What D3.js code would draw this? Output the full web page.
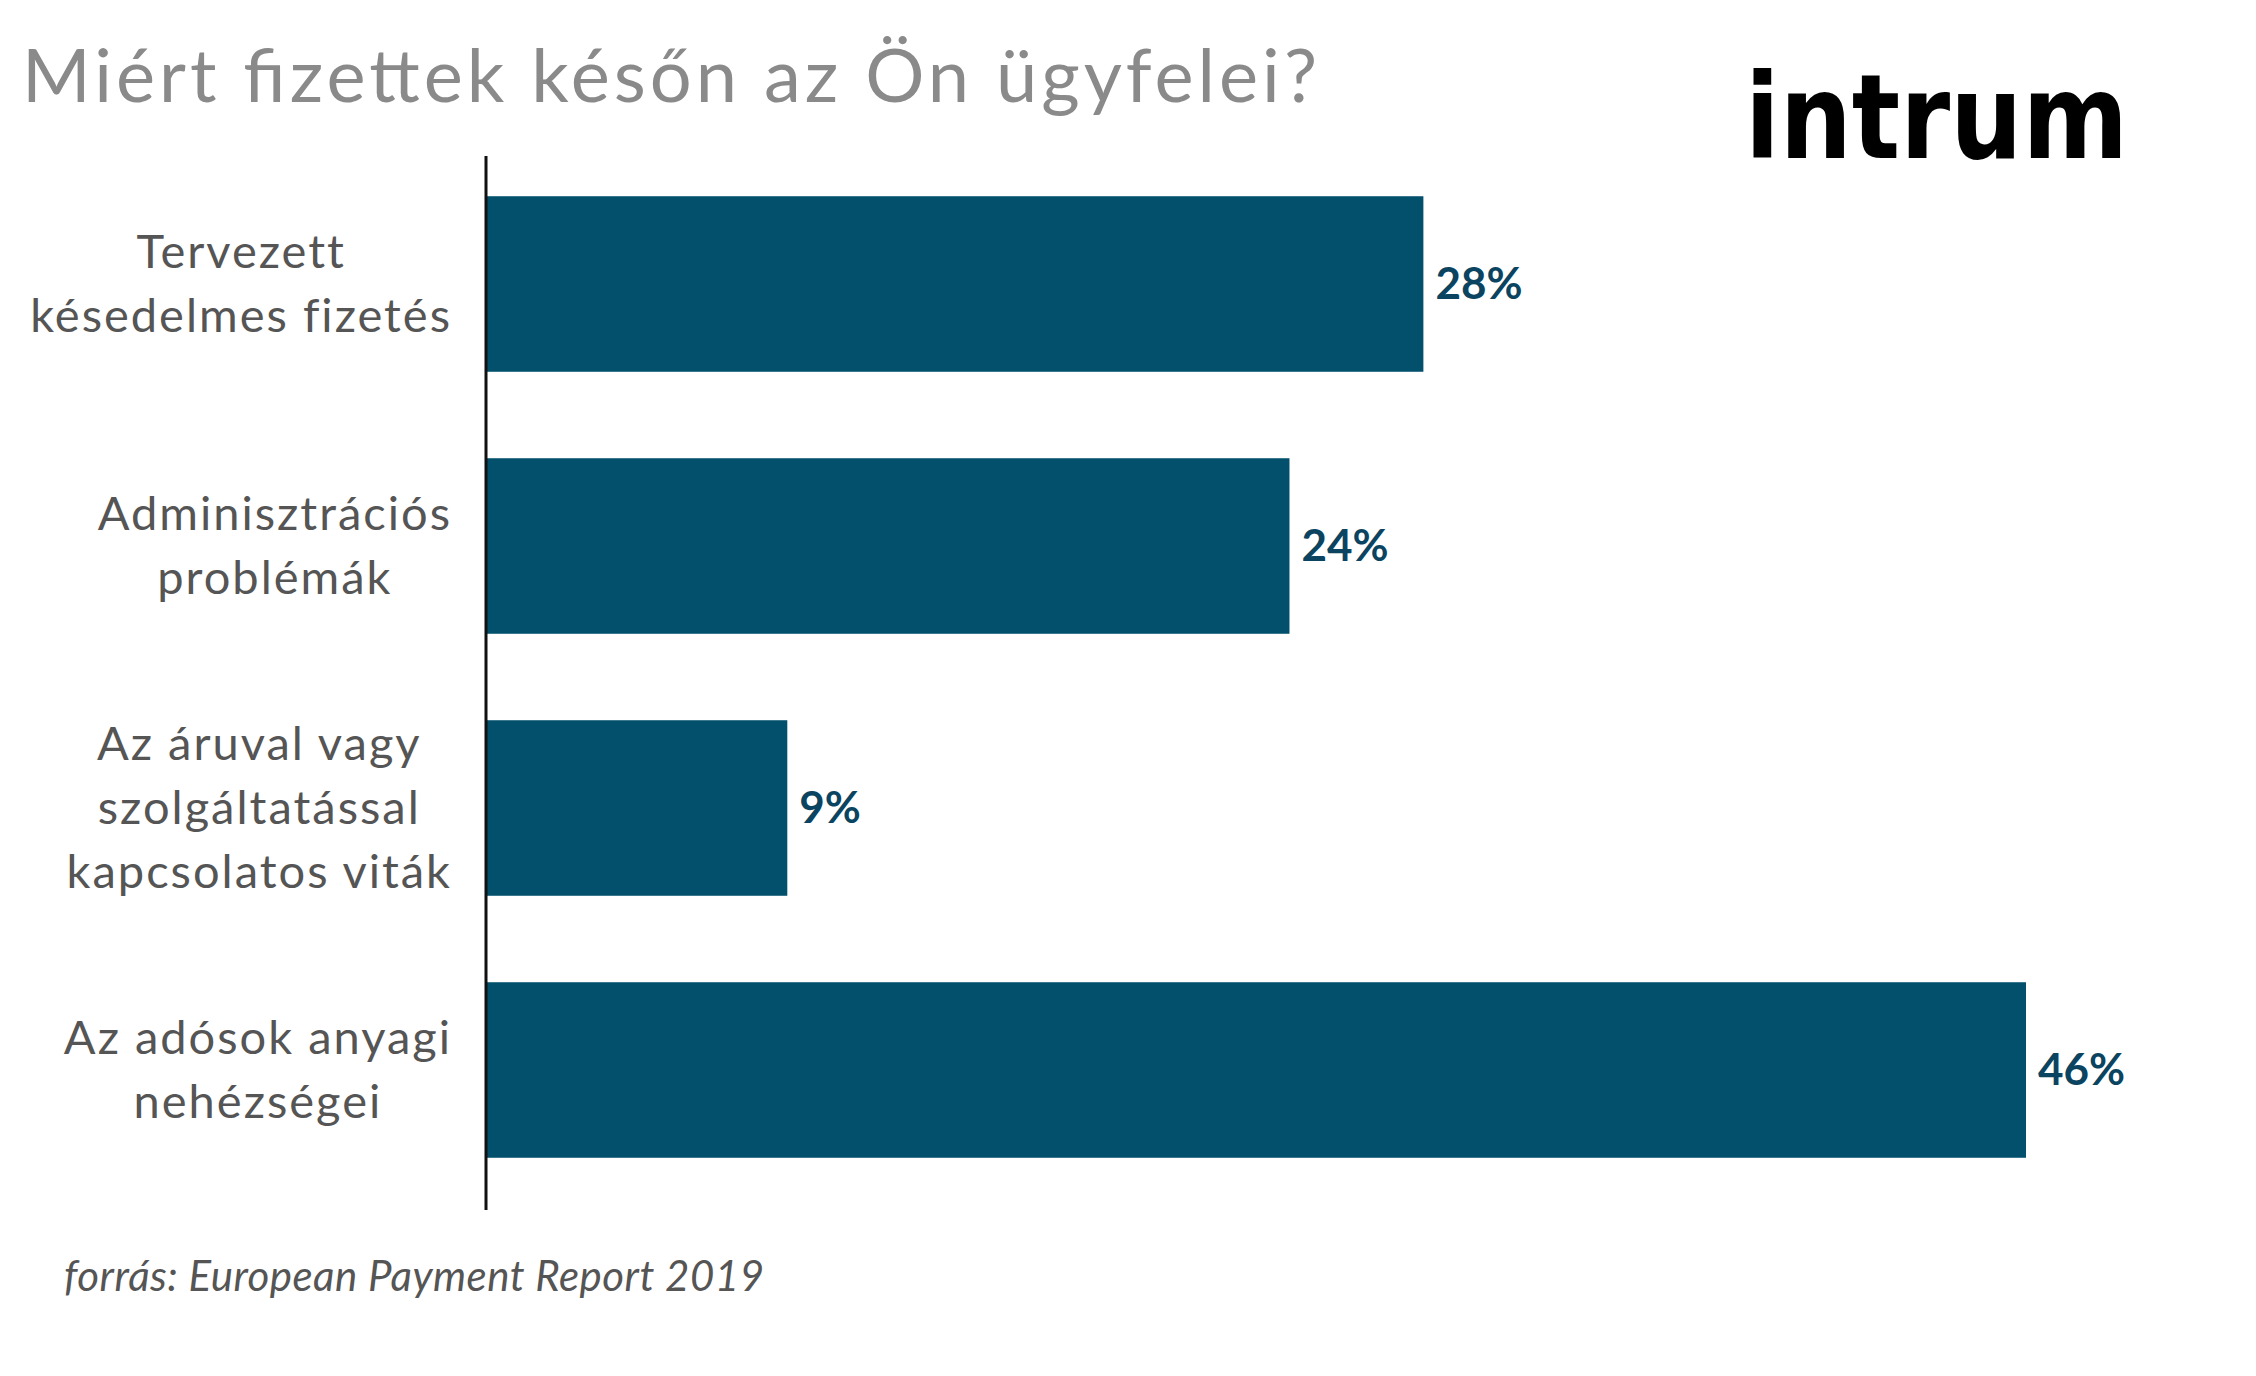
<!DOCTYPE html>
<html>
<head>
<meta charset="utf-8">
<script src="https://cdn.jsdelivr.net/npm/d3@7"></script>
<style>
  body { margin: 0; background: #fff; }
  svg { display: block; }
</style>
</head>
<body>
<svg id="chart" width="2256" height="1376"></svg>
<script>
// adatok
var categories = [
    ["Tervezett", "késedelmes fizetés"],
    ["Adminisztrációs", "problémák"],
    ["Az áruval vagy", "szolgáltatással", "kapcsolatos viták"],
    ["Az adósok anyagi", "nehézségei"]
]
var values = [28, 24, 9, 46]
var valueLabels = ["28%", "24%", "9%", "46%"]

var svg = d3.select("#chart")
var left = 486

var x = d3.scaleLinear().domain([0, 46]).range([left, 2026])
var y = d3.scaleBand().domain(d3.range(values.length)).range([153, 1201])
    .paddingInner(0.33).paddingOuter(0.165)

svg.append("text")
    .attr("x", 22).attr("y", 102)
    .attr("font-family", "Lato, sans-serif").attr("font-size", 74)
    .attr("fill", "#8a8a8a")
    .attr("textLength", 1295).attr("lengthAdjust", "spacing")
    .text("Miért fizettek későn az Ön ügyfelei?")

svg.append("text")
    .attr("x", 1745).attr("y", 158)
    .attr("font-family", "'DejaVu Sans', sans-serif").attr("font-weight", "bold")
    .attr("font-size", 118).attr("textLength", 383).attr("lengthAdjust", "spacingAndGlyphs")
    .attr("fill", "#000")
    .text("intrum")

svg.selectAll("rect.bar")
    .data(values)
    .enter()
        .append("rect")
        .attr("class", "bar")
        .attr("x", left)
        .attr("y", (d, i) => y(i))
        .attr("width", d => x(d) - left)
        .attr("height", y.bandwidth())
        .attr("fill", "#02506c")

svg.selectAll("text.val")
    .data(values)
    .enter()
        .append("text")
        .attr("class", "val")
        .attr("x", d => x(d) + 12)
        .attr("y", (d, i) => y(i) + y.bandwidth() / 2 + 15)
        .attr("font-family", "Lato, sans-serif").attr("font-weight", "bold")
        .attr("font-size", 44).attr("fill", "#0b4460")
        .text((d, i) => valueLabels[i])

svg.append("line")
    .attr("x1", left).attr("x2", left)
    .attr("y1", 156).attr("y2", 1210)
    .attr("stroke", "#111").attr("stroke-width", 3)

var lineH = 64
var labelRight = 452
svg.selectAll("text.cat")
    .data(categories)
    .enter()
        .append("text")
        .attr("class", "cat")
        .attr("text-anchor", "middle")
        .attr("font-family", "Lato, sans-serif").attr("font-size", 47)
        .attr("letter-spacing", 2)
        .attr("fill", "#555")
        .each(function(d, i) {
            var el = d3.select(this)
            var cy = y(i) + y.bandwidth() / 2
            var top = cy - (d.length - 1) * lineH / 2 + 16
            el.selectAll("tspan")
                .data(d)
                .enter()
                    .append("tspan")
                    .attr("y", (t, j) => top + j * lineH)
                    .text(t => t)
            var w = d3.max(el.selectAll("tspan").nodes(), n => n.getComputedTextLength())
            el.selectAll("tspan").attr("x", labelRight - w / 2)
        })

svg.append("text")
    .attr("x", 64).attr("y", 1291)
    .attr("font-family", "Lato, sans-serif").attr("font-style", "italic")
    .attr("font-size", 42).attr("fill", "#555")
    .attr("textLength", 700).attr("lengthAdjust", "spacing")
    .text("forrás: European Payment Report 2019")
</script>
</body>
</html>
